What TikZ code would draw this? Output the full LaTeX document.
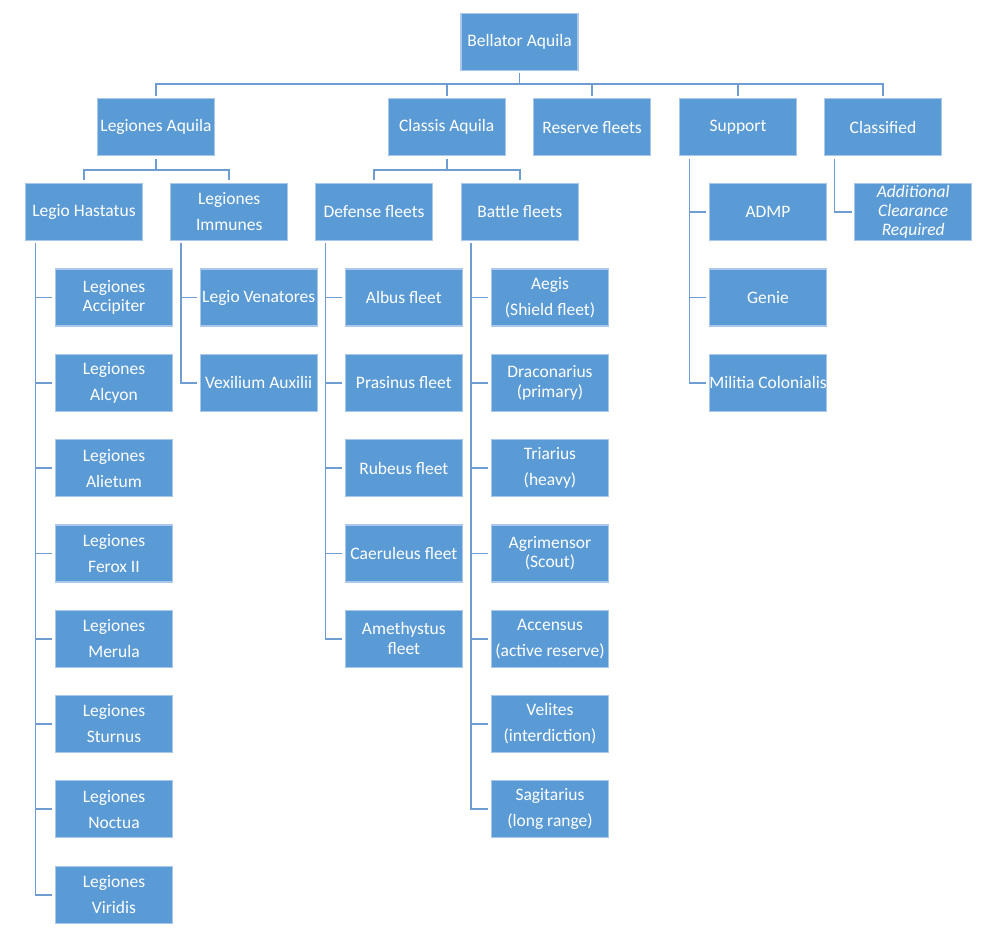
\documentclass[tikz,border=0pt]{standalone}
\usepackage{fontspec}
\setmainfont{Carlito}
\definecolor{boxfill}{HTML}{5B9BD5}
\definecolor{boxline}{HTML}{A9C8EA}
\definecolor{connc}{HTML}{6F9DD2}
\tikzset{
  box/.style={rectangle, fill=boxfill, draw=boxline, line width=1.2pt,
    minimum width=117pt, minimum height=57pt, inner sep=0pt, text=white,
    align=center, font=\fontsize{17.5}{26}\selectfont},
  tight/.style={font=\fontsize{17.5}{19.5}\selectfont},
  tightit/.style={font=\fontsize{17.5}{19}\selectfont\itshape},
  conn/.style={draw=connc, line width=1.8pt, shorten <=2.5pt, shorten >=2.5pt}
}
\begin{document}
\begin{tikzpicture}[x=1pt,y=-1pt]
\useasboundingbox (0,0) rectangle (1003,935);
\fill[white] (0,0) rectangle (1003,935);
\coordinate (busA) at (0,84.3);
\coordinate (busB) at (0,169.7);
% root
\node[box] (root) at (519.5,41.8) {Bellator Aquila};
% level 1
\node[box] (LA) at (156,127.2) {Legiones Aquila};
\node[box] (CA) at (446.7,127.2) {Classis Aquila};
\node[box] (RF) at (592,127.2) {Reserve fleets};
\node[box] (SU) at (738,127.2) {Support};
\node[box] (CL) at (883,127.2) {Classified};
% level 2
\node[box] (LH) at (84,211.8) {Legio Hastatus};
\node[box] (LI) at (229.2,211.8) {Legiones\\Immunes};
\node[box] (DF) at (374,211.8) {Defense fleets};
\node[box] (BF) at (519.8,211.8) {Battle fleets};
\node[box] (ADMP) at (768,211.8) {ADMP};
\node[box,tightit] (ACR) at (913.2,211.8) {Additional\\Clearance\\Required};
% Legio Hastatus children
\node[box,tight] (h1) at (114,297.5) {Legiones\\Accipiter};
\node[box] (h2) at (114,382.8) {Legiones\\Alcyon};
\node[box] (h3) at (114,468.1) {Legiones\\Alietum};
\node[box] (h4) at (114,553.4) {Legiones\\Ferox II};
\node[box] (h5) at (114,638.7) {Legiones\\Merula};
\node[box] (h6) at (114,724) {Legiones\\Sturnus};
\node[box] (h7) at (114,809.3) {Legiones\\Noctua};
\node[box] (h8) at (114,894.6) {Legiones\\Viridis};
% Legiones Immunes children
\node[box] (i1) at (258.7,297.5) {Legio Venatores};
\node[box] (i2) at (258.7,382.8) {Vexilium Auxilii};
% Defense fleets children
\node[box] (d1) at (403.8,297.5) {Albus fleet};
\node[box] (d2) at (403.8,382.8) {Prasinus fleet};
\node[box] (d3) at (403.8,468.1) {Rubeus fleet};
\node[box] (d4) at (403.8,553.4) {Caeruleus fleet};
\node[box,tight] (d5) at (403.8,638.7) {Amethystus\\fleet};
% Battle fleets children
\node[box] (b1) at (550,297.5) {Aegis\\(Shield fleet)};
\node[box,tight] (b2) at (550,382.8) {Draconarius\\(primary)};
\node[box] (b3) at (550,468.1) {Triarius\\(heavy)};
\node[box,tight] (b4) at (550,553.4) {Agrimensor\\(Scout)};
\node[box] (b5) at (550,638.7) {Accensus\\(active reserve)};
\node[box] (b6) at (550,724) {Velites\\(interdiction)};
\node[box] (b7) at (550,809.3) {Sagitarius\\(long range)};
% Support children
\node[box] (GE) at (768,297.5) {Genie};
\node[box] (MC) at (768,382.8) {Militia Colonialis};
% connectors: root bus
\foreach \n in {LA,CA,RF,SU,CL}
  \draw[conn] (\n.north) |- (root.south |- busA) -- (root.south);
% level-2 buses
\foreach \n in {LH,LI}
  \draw[conn] (\n.north) |- (LA.south |- busB) -- (LA.south);
\foreach \n in {DF,BF}
  \draw[conn] (\n.north) |- (CA.south |- busB) -- (CA.south);
% side connectors
\foreach \n in {h1,h2,h3,h4,h5,h6,h7,h8}
  \draw[conn] ([xshift=10.5pt]LH.south west) |- (\n.west);
\foreach \n in {i1,i2}
  \draw[conn] ([xshift=10.5pt]LI.south west) |- (\n.west);
\foreach \n in {d1,d2,d3,d4,d5}
  \draw[conn] ([xshift=10.5pt]DF.south west) |- (\n.west);
\foreach \n in {b1,b2,b3,b4,b5,b6,b7}
  \draw[conn] ([xshift=10.5pt]BF.south west) |- (\n.west);
\foreach \n in {ADMP,GE,MC}
  \draw[conn] ([xshift=10.5pt]SU.south west) |- (\n.west);
\draw[conn] ([xshift=10.5pt]CL.south west) |- (ACR.west);
\end{tikzpicture}
\end{document}
